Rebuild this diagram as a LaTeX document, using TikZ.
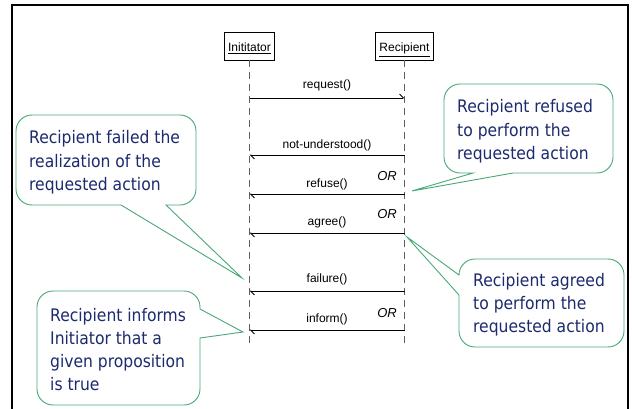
\documentclass[tikz,border=0pt]{standalone}
\usepackage{fontspec}
\setmainfont{Liberation Sans}
\newfontfamily\calloutfont{DejaVu Sans Condensed}
\usetikzlibrary{arrows.meta}
\definecolor{cogreen}{RGB}{72,168,118}
\definecolor{conavy}{RGB}{28,42,110}
\definecolor{lifegray}{RGB}{95,95,95}
\begin{document}
\begin{tikzpicture}[x=1pt,y=-1pt,
  headbox/.style={draw, line width=0.8pt, inner sep=0pt, font=\fontsize{12}{14}\selectfont, text height=14pt, text depth=2pt, minimum height=28pt},
  life/.style={draw=lifegray, line width=1.5pt, dash pattern=on 7pt off 5pt},
  msg/.style={line width=0.8pt, -{Straight Barb[left,length=4pt,width=8pt]}},
  msglabel/.style={anchor=base, inner sep=0pt, font=\fontsize{12}{14}\selectfont},
  orlabel/.style={anchor=base east, inner sep=0pt, font=\fontsize{13}{15}\selectfont\itshape},
  callout/.style={draw=cogreen, line width=0.9pt, fill=white},
  cotext/.style={anchor=base west, inner sep=0pt, text=conavy, font=\calloutfont\fontsize{17.3}{23.3}\selectfont}]
\path[use as bounding box] (0,0) rectangle (632,409);
% frame
\draw[line width=2pt] (11.25,5) -- (628.75,5);
\draw[line width=1.5pt] (12,4) -- (12,409);
\draw[line width=1.5pt] (628,4) -- (628,409);
% lifeline heads
\node[headbox, minimum width=50pt] (ini) at (249.5,46) {\underline{Inititator}};
\node[headbox, minimum width=58pt] (rec) at (404.5,46) {\underline{Recipient}};
\coordinate (iniend) at (249.5,348);
\coordinate (recend) at (404.5,348);
\draw[life] (ini.south) -- (iniend);
\draw[life] (rec.south) -- (recend);
% messages
\draw[msg] (ini.south |- 0,98) -- (rec.south |- 0,98);
\node[msglabel] (lreq) at (327,88.5) {request()};
\draw[msg] (rec.south |- 0,155) -- (ini.south |- 0,155);
\node[msglabel] (lnu) at (327,148.5) {not-understood()};
\draw[msg] (rec.south |- 0,194) -- (ini.south |- 0,194);
\node[msglabel] (lref) at (327,187.5) {refuse()};
\node[orlabel] (or1) at (397,181) {OR};
\draw[msg] (rec.south |- 0,233) -- (ini.south |- 0,233);
\node[msglabel] (lagr) at (327,225.5) {agree()};
\node[orlabel] (or2) at (397,218) {OR};
\draw[msg] (rec.south |- 0,291) -- (ini.south |- 0,291);
\node[msglabel] (lfail) at (327,282.5) {failure()};
\draw[msg] (rec.south |- 0,330) -- (ini.south |- 0,330);
\node[msglabel] (linf) at (327,322.5) {inform()};
\node[orlabel] (or3) at (397,317) {OR};
% callout 1
\coordinate (t1) at (242,278);
\draw[callout] (121,205) [rounded corners=16pt] -- (16,205) -- (16,115) -- (196,115) -- (196,205) [sharp corners] -- (166,205) -- (t1) -- cycle;
\node[cotext] (c1) at (29,144) {\vtop{\hbox{Recipient failed the}\hbox{realization of the}\hbox{requested action}}};
% callout 2
\coordinate (t2) at (412,191);
\draw[callout] (513,173) [rounded corners=16pt] -- (613,173) -- (613,84) -- (444,84) -- (444,173) [sharp corners] -- (473,173) -- (t2) -- cycle;
\node[cotext] (c2) at (457,113) {\vtop{\hbox{Recipient refused}\hbox{to perform the}\hbox{requested action}}};
% callout 3
\coordinate (t3) at (407,237);
\draw[callout] (459,295) [rounded corners=16pt] -- (459,347) -- (624,347) -- (624,259) -- (459,259) [sharp corners] -- (459,275) -- (t3) -- cycle;
\node[cotext] (c3) at (473,286) {\vtop{\hbox{Recipient agreed}\hbox{to perform the}\hbox{requested action}}};
% callout 4
\coordinate (t4) at (243,332);
\draw[callout] (200,338) [rounded corners=16pt] -- (200,405) -- (37,405) -- (37,291) -- (200,291) [sharp corners] -- (200,309) -- (t4) -- cycle;
\node[cotext] (c4) at (50,321) {\vtop{\hbox{Recipient informs}\hbox{Initiator that a}\hbox{given proposition}\hbox{is true}}};
\end{tikzpicture}
\end{document}
